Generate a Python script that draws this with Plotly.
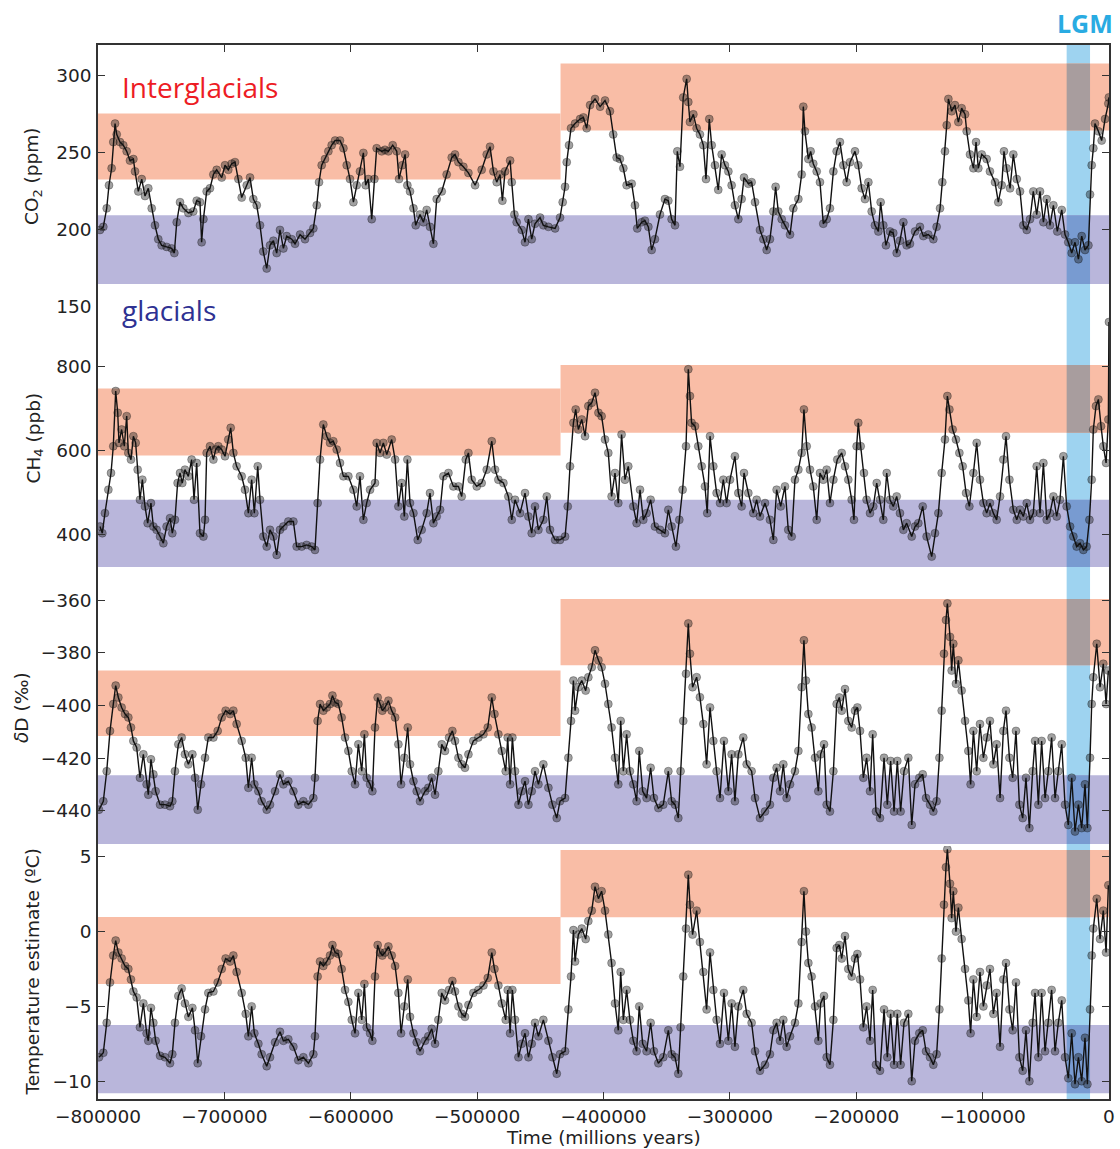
import plotly.graph_objects as go

# ---------------- data (ages in kyr, negative = before present) ----------------
co2_age = [
 -798.4,-795.8,-793.1,-791.3,-789.2,-787.9,-786.5,-785.2,-782.6,-780.0,
 -777.3,-774.7,-772.0,-770.7,-768.1,-765.4,-762.8,-760.2,-757.5,-754.9,
 -752.3,-749.6,-745.7,-741.7,-739.6,-737.7,-735.1,-732.5,-728.5,-724.6,
 -721.9,-719.3,-718.0,-716.6,-714.0,-711.4,-708.7,-706.1,-702.1,-699.5,
 -696.9,-694.2,-691.6,-688.9,-686.3,-682.3,-679.7,-677.1,-674.4,-671.8,
 -669.2,-666.5,-663.9,-661.2,-658.6,-656.0,-653.3,-650.7,-646.7,-644.1,
 -640.1,-636.2,-632.2,-629.6,-626.9,-625.1,-623.0,-620.4,-617.7,-615.1,
 -612.4,-608.5,-605.8,-603.2,-600.6,-597.9,-595.3,-592.7,-590.0,-588.2,
 -586.1,-583.4,-581.3,-579.5,-575.5,-572.9,-570.2,-566.8,-563.6,-561.8,
 -559.2,-557.0,-555.2,-553.1,-550.4,-548.6,-545.2,-542.5,-539.9,-537.3,
 -534.6,-532.0,-528.0,-524.1,-520.1,-517.5,-514.8,-510.9,-506.9,-501.6,
 -496.4,-492.4,-489.8,-487.1,-484.5,-481.9,-480.0,-477.9,-473.9,-472.6,
 -470.5,-468.7,-464.7,-462.1,-459.4,-456.8,-454.2,-450.2,-447.6,-443.6,
 -438.3,-434.4,-432.3,-430.4,-429.1,-427.3,-425.7,-422.5,-418.5,-415.9,
 -413.3,-410.6,-406.7,-402.7,
 -398.8,-394.9,-392.3,-389.6,-387.0,-384.3,-381.7,-377.7,-375.1,-373.3,
 -369.8,-367.2,-364.5,-361.9,-359.3,-355.3,-351.4,-348.7,-346.1,-343.4,
 -341.6,-339.5,-336.9,-334.2,-332.9,-331.6,-328.9,-326.3,-323.7,-321.0,
 -318.9,-316.3,-314.4,-311.8,-309.2,-306.5,-303.9,-301.2,-298.6,-296.0,
 -293.3,-290.7,-288.8,-285.4,-282.8,-280.1,-276.2,-273.5,-270.9,-268.3,
 -265.6,-263.8,-261.7,-259.0,-256.4,-252.4,-249.8,-245.8,-243.2,-241.9,
 -240.6,-237.9,-236.1,-234.0,-231.3,-228.7,-226.1,-223.4,-220.8,-218.1,
 -215.5,-212.9,-210.2,-207.6,-204.9,-201.0,-198.4,-195.7,-193.1,-190.4,
 -187.8,-185.2,-182.5,-180.7,-178.6,-176.5,-173.3,-170.7,-168.0,-165.4,
 -162.7,-160.1,-157.5,-153.5,-149.6,-146.9,-143.0,-139.0,-136.4,-133.7,
 -131.9,-129.8,-128.4,-127.1,-124.5,-121.9,-119.2,-116.6,-113.9,-112.6,
 -110.0,-107.3,-105.2,-103.4,-100.7,-96.8,-94.2,-90.2,-87.6,-84.9,
 -83.1,-81.0,-78.3,-75.7,-73.0,-70.4,-67.8,-65.1,-62.5,-59.9,
 -57.2,-54.6,-51.9,-49.3,-46.7,-44.0,-40.9,-37.4,-34.8,-32.2,
 -29.5,-26.9,-24.2,-21.6,-19.0,-16.3,-15.0,-13.7,-12.4,-11.1,
 -8.4,-5.8,-3.1,-0.5,-0.1]
co2_ppm = [
 200,202,214,229,240,257,269,262,257,255,
 251,245,246,238,225,233,222,227,214,203,
 194,190,189,188,185,205,218,214,211,212,
 219,218,192,207,225,227,236,239,234,242,
 239,243,244,233,221,229,234,220,216,203,
 186,175,190,193,185,200,188,196,194,191,
 197,194,198,201,216,231,242,246,251,255,
 258,258,253,242,233,218,229,238,250,229,
 233,207,233,253,251,252,251,255,251,233,
 242,249,229,225,214,203,210,205,213,202,
 191,220,225,236,247,249,244,241,237,229,
 239,249,254,238,231,236,219,238,245,231,
 210,205,200,192,207,194,204,208,203,202,
 201,208,218,228,244,255,266,269,272,273,
 266,281,285,280,
 284,277,262,247,246,240,229,230,216,201,
 205,206,202,187,194,210,220,219,207,203,
 251,241,286,298,283,270,275,266,262,255,
 233,272,255,242,226,249,242,238,229,216,
 207,220,234,230,231,218,200,194,187,194,
 212,228,212,207,203,197,214,220,236,280,
 264,246,251,243,238,231,204,207,214,238,
 251,257,242,231,244,251,242,227,220,231,
 212,203,199,218,203,190,199,198,185,193,
 205,190,191,199,202,196,197,194,202,214,
 231,251,268,285,277,281,270,279,275,264,
 249,240,257,240,249,246,238,231,218,229,
 251,240,227,249,233,225,203,200,207,225,
 210,225,205,220,203,216,199,213,197,192,
 185,192,181,196,187,190,223,242,253,269,
 264,258,272,282,286]

ch4_age = [
 -798.4,-796.6,-794.5,-791.8,-789.7,-787.9,-786.0,-784.4,-783.4,-781.3,
 -779.2,-777.3,-776.0,-773.9,-772.0,-770.2,-768.6,-766.8,-764.9,-762.8,
 -760.7,-758.1,-756.2,-753.6,-750.9,-748.3,-745.7,-743.0,-741.2,-739.1,
 -737.0,-735.1,-733.3,-731.2,-728.5,-725.9,-724.0,-721.9,-719.3,-716.6,
 -715.3,-714.0,-711.4,-708.7,-706.9,-704.8,-702.1,-699.5,-696.9,-695.0,
 -692.9,-690.3,-686.3,-683.7,-681.0,-678.4,-676.3,-673.6,-671.8,-669.2,
 -666.5,-663.9,-661.2,-658.6,-656.0,-653.3,-649.4,-645.4,-642.8,-638.8,
 -634.9,-630.9,-628.3,-626.2,-624.3,-621.7,-619.0,-616.4,-613.8,-611.1,
 -608.5,-605.8,-601.9,-597.9,-595.3,-592.7,-590.0,-587.4,-584.7,-580.8,
 -579.5,-576.8,-574.2,-571.5,-567.6,-564.9,-562.3,-559.7,-557.6,-555.2,
 -553.1,-550.4,-547.0,-543.9,-539.9,-537.3,-534.6,-532.0,-529.3,-526.7,
 -522.7,-518.8,-514.8,-512.2,-509.0,-506.9,-504.3,-500.3,-496.4,-492.4,
 -488.4,-485.8,-483.2,-479.2,-475.3,-472.6,-470.0,-466.0,-462.1,-459.4,
 -456.8,-454.2,-451.5,-447.6,-444.9,-442.3,-438.3,-434.4,-430.4,-428.3,
 -426.5,-423.8,-422.0,-419.9,-417.2,-414.6,-412.0,-409.3,-406.7,-404.0,
 -401.5,-398.8,-396.2,-393.6,-390.9,-388.3,-385.7,-383.0,-380.4,-376.4,
 -373.8,-371.1,-368.5,-365.9,-362.7,-359.3,-355.3,-351.4,-348.7,-346.1,
 -342.7,-340.0,-337.4,-334.7,-332.9,-331.6,-330.3,-327.6,-325.0,-322.3,
 -319.7,-317.9,-315.7,-313.1,-310.5,-307.8,-305.2,-302.6,-299.9,-296.0,
 -293.3,-290.7,-288.8,-285.4,-281.5,-278.8,-276.2,-272.2,-268.3,-265.6,
 -263.0,-259.8,-256.4,-253.8,-251.1,-248.5,-245.8,-243.2,-241.4,-239.2,
 -236.6,-234.0,-231.3,-228.7,-226.1,-223.4,-220.8,-218.1,-215.0,-211.5,
 -208.9,-206.3,-203.6,-201.8,-199.7,-198.4,-196.5,-193.9,-191.8,-189.1,
 -186.5,-183.8,-181.2,-178.6,-175.9,-173.3,-170.7,-168.0,-165.4,-162.7,
 -160.1,-156.1,-153.5,-150.9,-147.4,-144.3,-140.3,-137.7,-135.0,-132.4,
 -129.8,-127.9,-126.3,-123.7,-121.1,-118.4,-115.8,-113.1,-110.5,-107.3,
 -104.7,-102.1,-99.4,-96.8,-94.2,-91.5,-88.9,-86.2,-83.6,-81.5,
 -78.8,-75.7,-73.0,-70.4,-67.8,-65.1,-62.5,-59.9,-57.2,-54.6,
 -51.9,-49.3,-46.7,-44.0,-41.4,-38.8,-36.1,-33.5,-30.8,-28.2,
 -25.6,-22.9,-20.3,-17.7,-15.5,-13.7,-12.4,-10.3,-8.4,-6.3,
 -4.5,-2.3,-0.5,-0.05]
ch4_ppb = [
 418,402,450,506,546,610,742,690,618,650,
 610,682,594,578,634,618,554,482,530,466,
 426,474,418,410,394,378,418,438,402,434,
 522,546,522,554,538,578,482,570,402,394,
 434,594,610,578,602,610,602,586,626,654,
 594,562,538,506,450,530,450,562,482,394,
 370,410,394,350,410,418,430,430,370,370,
 374,370,362,474,578,662,634,618,622,602,
 570,538,538,506,466,538,434,474,506,522,
 618,594,618,590,626,578,466,522,442,578,
 474,450,386,410,450,498,426,442,458,538,
 546,514,514,490,578,594,530,514,522,554,
 622,554,530,522,490,434,482,450,498,442,
 402,466,410,434,490,410,386,386,394,466,
 562,666,698,650,674,634,706,714,738,690,
 682,626,594,490,546,474,638,530,562,466,
 426,506,434,450,482,418,410,402,458,418,
 370,434,506,610,794,730,666,658,610,562,
 514,450,634,562,498,474,530,474,530,586,
 498,466,546,498,450,482,442,474,434,386,
 506,466,514,410,394,530,554,594,698,610,
 554,514,434,546,530,554,474,530,578,594,
 562,530,482,434,610,666,610,546,482,450,
 466,522,482,434,546,482,466,490,450,410,
 426,394,418,426,466,394,346,402,450,546,
 626,730,698,650,626,594,562,498,466,546,
 618,530,474,450,474,450,434,490,578,634,
 530,458,434,458,442,474,434,450,562,450,
 570,434,450,490,442,482,586,466,418,394,
 370,378,362,370,434,530,650,706,722,658,
 610,570,674,907]

dD_age = [
 -799.2,-795.8,-793.1,-790.5,-787.9,-786.0,-783.9,-781.3,-778.6,-776.0,
 -773.9,-772.0,-769.4,-766.8,-764.1,-761.5,-760.2,-758.1,-756.2,-754.4,
 -750.9,-747.0,-743.0,-741.2,-739.1,-736.4,-733.8,-731.2,-728.5,-725.3,
 -723.2,-721.1,-718.5,-715.3,-712.7,-708.7,-705.3,-702.1,-699.0,-695.5,
 -692.9,-690.3,-686.3,-683.1,-681.0,-678.4,-676.3,-673.1,-670.5,-666.5,
 -663.9,-659.9,-656.0,-653.3,-649.4,-645.4,-641.5,-637.5,-633.5,-629.6,
 -628.3,-626.2,-624.3,-621.7,-619.0,-616.4,-614.5,-612.4,-609.8,-607.2,
 -604.5,-601.9,-599.2,-596.6,-594.0,-591.3,-589.2,-587.4,-584.7,-582.9,
 -580.8,-578.7,-576.8,-575.0,-572.9,-570.2,-567.6,-564.9,-562.3,-560.2,
 -557.6,-554.9,-553.1,-550.4,-547.8,-545.2,-541.2,-538.6,-535.9,-533.3,
 -530.7,-528.0,-525.4,-522.2,-519.6,-517.5,-514.8,-512.2,-509.6,-506.9,
 -503.0,-499.0,-495.0,-491.6,-488.4,-486.3,-483.2,-480.5,-477.4,-475.8,
 -473.9,-472.1,-470.0,-467.3,-464.7,-462.1,-459.4,-456.8,-454.2,-451.5,
 -447.6,-443.6,-440.4,-437.0,-434.4,-430.4,-427.8,-425.7,-423.8,-422.5,
 -419.9,-417.2,-414.1,-412.0,-409.3,-406.7,-404.0,
 -401.5,-398.8,-396.2,-393.6,-390.9,-388.3,-386.4,-384.3,-381.7,-379.1,
 -376.4,-373.8,-371.7,-369.0,-365.9,-362.7,-360.1,-356.6,-352.7,-348.7,
 -346.1,-343.4,-340.8,-339.0,-336.9,-334.7,-332.9,-331.6,-329.5,-326.3,
 -323.7,-321.0,-318.4,-315.7,-313.1,-310.5,-307.8,-304.7,-301.2,-298.6,
 -296.0,-293.3,-289.4,-286.7,-282.8,-280.1,-276.2,-272.2,-268.3,-265.6,
 -263.0,-260.3,-257.7,-255.1,-252.4,-248.5,-245.8,-243.2,-241.4,-239.8,
 -237.9,-235.3,-232.6,-230.0,-228.2,-225.5,-223.4,-220.8,-218.1,-215.5,
 -213.4,-211.5,-208.9,-206.3,-203.6,-201.0,-199.1,-197.0,-194.4,-191.8,
 -189.1,-187.0,-184.4,-181.2,-178.0,-175.4,-172.8,-170.1,-167.5,-164.9,
 -162.2,-158.8,-156.1,-153.5,-150.1,-147.4,-144.8,-141.6,-139.0,-136.4,
 -134.2,-132.4,-130.6,-129.0,-127.9,-125.8,-124.5,-123.2,-121.1,-119.2,
 -116.6,-113.9,-111.3,-109.5,-107.3,-104.7,-102.1,-99.4,-96.8,-94.2,
 -91.5,-88.9,-86.2,-83.6,-81.5,-78.8,-76.2,-73.6,-70.9,-68.3,
 -65.7,-63.0,-60.4,-58.5,-55.9,-53.3,-50.6,-48.0,-45.4,-42.7,
 -40.1,-37.4,-34.8,-32.2,-29.5,-26.9,-24.2,-21.6,-19.0,-17.1,
 -15.0,-13.7,-12.4,-9.7,-7.1,-4.5,-2.3,-0.5]
dD_permil = [
 -439.6,-436.4,-425,-409.7,-399.5,-392.5,-397,-400.8,-403.3,-404.6,
 -408.4,-413.5,-416,-427.5,-418.6,-430,-433.9,-420.5,-426.2,-432.6,
 -437.7,-437.7,-438.3,-436.4,-425,-414.8,-412.2,-418.6,-422.4,-418.6,
 -427.5,-439.6,-430,-419.9,-412.2,-412.2,-409.7,-404.6,-402,-403.3,
 -402,-407.1,-413.5,-419.9,-431.3,-419.9,-430,-432.6,-436.4,-439.6,
 -437.7,-432.6,-426.2,-430,-428.8,-432.6,-437.7,-436.4,-437.7,-435.2,
 -427.5,-405.9,-399.5,-402,-400.8,-399.5,-396.3,-398.9,-399.5,-404.6,
 -412.2,-417.3,-425,-430,-414.8,-425,-411,-427.5,-430,-432.6,
 -408.4,-397,-399.5,-402,-400.8,-398.2,-402,-404.6,-414.8,-430,
 -419.9,-408.4,-422.4,-428.8,-432.6,-436.4,-432.6,-431.3,-427.5,-433.9,
 -425,-414.8,-417.3,-412.2,-409.7,-413.5,-419.9,-422.4,-423.7,-418.6,
 -413.5,-412.2,-411,-408.4,-397,-403.3,-411,-417.3,-425,-412.2,
 -430,-412.2,-425,-437.7,-432.6,-428.8,-437.7,-432.6,-425,-430,
 -422.4,-431.3,-437.7,-442.8,-436.4,-435.2,-419.9,-405.9,-390.6,-402,
 -393.1,-390.6,-394.4,-389.3,-385.5,-379.1,-382.9,
 -385.5,-391.8,-399.5,-408.4,-419.9,-430,-405.9,-425,-411,-425,
 -430,-436.4,-417.3,-432.6,-435.2,-423.7,-435.2,-439,-437.7,-425,
 -436.4,-437.7,-442.8,-425,-405.9,-388,-368.9,-380.4,-393.1,-389.3,
 -396.9,-407.1,-422.4,-400.8,-413.5,-425,-435.2,-413.5,-432.6,-418.6,
 -436.4,-418.6,-412.2,-422.4,-425,-435.2,-442.8,-440.3,-437.7,-427.5,
 -423.7,-432.6,-422.4,-435.2,-430,-425,-417.3,-393.1,-375.3,-390.6,
 -403.3,-408.4,-419.9,-432.6,-418.6,-414.8,-437.7,-440.3,-425,-399.5,
 -397,-402,-393.8,-405.9,-408.4,-402,-400.8,-409.7,-427.5,-419.9,
 -432.6,-411,-440.3,-442.8,-419.9,-437.7,-421.1,-440.3,-421.1,-440.3,
 -425,-419.9,-445.4,-430,-427.5,-426.2,-435.2,-437.7,-440.3,-436.4,
 -419.9,-402,-380.4,-367.6,-361.3,-374,-386.8,-376.6,-391.8,-382.9,
 -394.4,-405.9,-417.3,-430,-409.7,-425,-407.1,-419.9,-412.2,-405.9,
 -422.4,-414.8,-435.2,-409.7,-402,-419.9,-427.5,-409.7,-437.7,-442.8,
 -427.5,-446.6,-425,-413.5,-437.7,-413.5,-435.2,-425,-412.2,-435.2,
 -425,-414.8,-437.7,-445.4,-427.5,-447.9,-437.7,-446.6,-430,-446.6,
 -419.9,-399.5,-389.3,-376.6,-393.1,-384.2,-399.5,-386.8]

temp_age = list(dD_age)
temp_c = [
 -8.4,-8.1,-6.1,-3.4,-1.6,-0.6,-1.4,-1.8,-2.3,-2.5,
 -3.2,-4.0,-4.4,-6.4,-4.8,-6.8,-7.3,-5.1,-6.1,-7.3,
 -8.3,-8.4,-8.8,-8.2,-6.1,-4.3,-3.8,-4.8,-5.7,-5.1,
 -6.6,-8.8,-7.0,-5.2,-4.1,-4.0,-3.4,-2.5,-1.8,-2.0,
 -1.6,-2.7,-4.1,-5.5,-7.0,-5.0,-6.8,-7.5,-8.2,-9.0,
 -8.4,-7.4,-6.7,-7.3,-7.2,-7.7,-8.6,-8.4,-8.8,-8.2,
 -7.0,-3.0,-2.0,-2.3,-2.0,-1.6,-0.9,-1.4,-1.5,-2.5,
 -3.9,-4.7,-5.9,-6.8,-4.1,-5.9,-3.5,-6.4,-6.8,-7.3,
 -3.0,-0.9,-1.4,-1.6,-1.4,-1.0,-1.6,-2.3,-4.1,-6.8,
 -5.0,-3.2,-5.7,-6.8,-7.4,-8.0,-7.3,-7.0,-6.5,-7.5,
 -5.9,-4.1,-4.6,-3.9,-3.3,-4.0,-5.0,-5.5,-5.7,-4.9,
 -4.1,-3.9,-3.6,-3.1,-1.4,-2.5,-3.6,-4.8,-5.9,-3.9,
 -6.8,-3.9,-5.9,-8.4,-7.5,-6.8,-8.4,-7.5,-6.1,-7.0,
 -5.9,-7.3,-8.4,-9.5,-8.2,-8.0,-5.2,-3.0,0.1,-2.0,
 -0.2,0.2,-0.5,0.7,1.4,3.0,2.2,
 2.7,1.4,-0.2,-2.1,-4.8,-6.6,-2.7,-5.9,-3.9,-5.9,
 -7.3,-8.0,-5.0,-7.5,-8.0,-6.1,-8.0,-8.8,-8.4,-6.6,
 -8.2,-8.4,-9.5,-6.4,-3.0,0.2,3.8,1.8,-0.2,1.4,
 -0.7,-2.7,-5.2,-1.4,-3.9,-5.9,-7.5,-4.1,-7.3,-4.8,
 -7.7,-5.0,-3.9,-5.5,-6.1,-8.0,-9.3,-8.9,-8.2,-6.6,
 -6.1,-7.3,-5.9,-7.7,-7.0,-6.1,-4.8,-0.7,2.7,0.0,
 -2.1,-3.0,-5.0,-7.3,-4.8,-4.3,-8.4,-8.9,-5.9,-1.1,
 -0.9,-1.8,-0.3,-2.5,-3.0,-1.8,-1.5,-3.2,-6.4,-5.0,
 -7.3,-3.9,-8.9,-9.3,-5.2,-8.4,-5.5,-8.9,-5.5,-8.9,
 -6.1,-5.5,-10.0,-7.3,-6.8,-6.6,-8.0,-8.4,-8.9,-8.2,
 -5.2,-1.8,1.8,4.3,5.5,3.2,0.9,2.7,0.0,1.6,
 -0.5,-2.5,-4.6,-6.8,-3.2,-5.7,-2.7,-5.0,-3.6,-2.5,
 -5.5,-4.1,-7.7,-3.2,-2.1,-5.2,-6.6,-3.4,-8.4,-9.3,
 -6.6,-10.0,-6.1,-4.1,-8.4,-4.1,-8.0,-6.1,-3.9,-8.0,
 -6.1,-4.6,-8.4,-9.8,-6.8,-10.2,-8.4,-10.0,-7.1,-10.2,
 -5.2,-1.6,0.2,2.2,-0.5,1.4,-1.4,3.1]

# band limits [low, high] per panel: early / late interglacial, and glacial
split_kyr = -434.0
lgm_kyr = [-33.5, -15.0]
co2_bands = {"ig_early": [232.8, 275.6], "ig_late": [264.5, 308.0], "gl": [165.0, 209.5]}
ch4_bands = {"ig_early": [588.0, 748.0], "ig_late": [642.0, 804.0], "gl": [321.0, 482.0]}
dD_bands = {"ig_early": [-411.6, -386.8], "ig_late": [-384.8, -359.6], "gl": [-452.6, -426.5]}
temp_bands = {"ig_early": [-3.5, 0.98], "ig_late": [0.95, 5.45], "gl": [-10.8, -6.25]}

x_ticks = [-800000, -700000, -600000, -500000, -400000, -300000, -200000, -100000, 0]
x_ticktext = ["\u2212800000", "\u2212700000", "\u2212600000", "\u2212500000", "\u2212400000",
              "\u2212300000", "\u2212200000", "\u2212100000", "0"]

assert len(co2_age) == len(co2_ppm)
assert len(ch4_age) == len(ch4_ppb)
assert len(dD_age) == len(dD_permil)
assert len(temp_age) == len(temp_c)

# ---------------- styling ----------------
RED = "#F9BDA6"
BLUE = "#B9B6DB"
LGM = "#9ED3F0"
LGM_ON_RED = "#A89D9E"
LGM_ON_BLUE = "#789BD1"
AXC = "#333333"
TXT = "#222222"
FONT = "DejaVu Sans"

W, H = 1120, 1149
ML, MR, MT, MB = 98, 11, 45, 50
PH = H - MT - MB
def py2paper(py):
    return (H - MB - py) / PH
def px2paper(px):
    return (px - ML) / (W - ML - MR)

bounds = [45, 307, 570, 846, 1099]
domains = [[py2paper(bounds[i + 1]), py2paper(bounds[i])] for i in range(4)]

panels = [
    dict(age=co2_age, val=co2_ppm, bands=co2_bands, rng=[150, 320],
         tv=[150, 200, 250, 300], tt=["150", "200", "250", "300"],
         title="CO<sub>2</sub> (ppm)", tx=33),
    dict(age=ch4_age, val=ch4_ppb, bands=ch4_bands, rng=[314, 943],
         tv=[400, 600, 800], tt=["400", "600", "800"],
         title="CH<sub>4</sub> (ppb)", tx=35),
    dict(age=dD_age, val=dD_permil, bands=dD_bands, rng=[-453.4, -348.6],
         tv=[-440, -420, -400, -380, -360],
         tt=["\u2212440", "\u2212420", "\u2212400", "\u2212380", "\u2212360"],
         title="<i>\u03b4</i>D (\u2030)", tx=21),
    dict(age=temp_age, val=temp_c, bands=temp_bands, rng=[-11.19, 5.72],
         tv=[-10, -5, 0, 5], tt=["\u221210", "\u22125", "0", "5"],
         title="Temperature estimate (\u00baC)", tx=32),
]

fig = go.Figure()
shapes = []
annotations = []
layout = {}

for i, p in enumerate(panels):
    n = "" if i == 0 else str(i + 1)
    xref, yref = "x" + n, "y" + n
    xs = [a * 1000 for a in p["age"]]
    fig.add_trace(go.Scatter(x=xs, y=p["val"], mode="markers", xaxis=xref, yaxis=yref,
                             marker=dict(size=8, color="rgba(30,30,30,0.42)",
                                         line=dict(width=0.8, color="rgba(0,0,0,0.35)")),
                             showlegend=False, hoverinfo="skip"))
    fig.add_trace(go.Scatter(x=xs, y=p["val"], mode="lines", xaxis=xref, yaxis=yref,
                             line=dict(color="#111111", width=1.4),
                             showlegend=False, hoverinfo="skip"))

    b = p["bands"]
    for x0, x1, (lo, hi), col in (
            (-800000, split_kyr * 1000, b["ig_early"], RED),
            (split_kyr * 1000, 0, b["ig_late"], RED),
            (-800000, 0, b["gl"], BLUE)):
        shapes.append(dict(type="rect", xref=xref, yref=yref, x0=x0, x1=x1, y0=lo, y1=hi,
                           fillcolor=col, line=dict(width=0), layer="below"))

    yax = dict(domain=domains[i], range=p["rng"], anchor=xref, automargin=False,
               tickvals=p["tv"], ticktext=p["tt"], ticks="inside", ticklen=7, tickwidth=1.2,
               tickcolor=AXC, showline=True, linecolor=AXC, linewidth=1.5, mirror="ticks",
               showgrid=False, zeroline=False, ticklabelstandoff=1,
               tickfont=dict(family=FONT, size=18.5, color=TXT))
    xax = dict(domain=[0, 1], range=[-800000, 0], anchor=yref, automargin=False,
               showgrid=False, zeroline=False, tickvals=x_ticks, ticktext=x_ticktext)
    if i == 0:
        xax.update(side="top", showline=True, linecolor=AXC, linewidth=1.5, ticks="inside",
                   ticklen=7, tickwidth=1.2, tickcolor=AXC, showticklabels=False)
    elif i == 3:
        xax.update(side="bottom", showline=True, linecolor=AXC, linewidth=1.5, ticks="inside",
                   ticklen=7, tickwidth=1.2, tickcolor=AXC, showticklabels=True, matches="x",
                   tickfont=dict(family=FONT, size=18.5, color=TXT))
    else:
        xax.update(showline=False, ticks="", showticklabels=False, matches="x")
    layout["xaxis" + n] = xax
    layout["yaxis" + n] = yax

    annotations.append(dict(text=p["title"], xref="paper", yref=yref + " domain",
                            x=px2paper(p["tx"]), y=0.5, xanchor="center", yanchor="middle",
                            textangle=-90, showarrow=False,
                            font=dict(family=FONT, size=18.5, color=TXT)))

# LGM band through all panels, then tinted overlaps where it crosses the bands
shapes.append(dict(type="rect", xref="x", yref="paper", x0=lgm_kyr[0] * 1000, x1=lgm_kyr[1] * 1000,
                   y0=0, y1=1, fillcolor=LGM, line=dict(width=0), layer="below"))
for i, p in enumerate(panels):
    n = "" if i == 0 else str(i + 1)
    b = p["bands"]
    for key, col in (("ig_late", LGM_ON_RED), ("gl", LGM_ON_BLUE)):
        lo, hi = b[key]
        shapes.append(dict(type="rect", xref="x" + n, yref="y" + n,
                           x0=lgm_kyr[0] * 1000, x1=lgm_kyr[1] * 1000, y0=lo, y1=hi,
                           fillcolor=col, line=dict(width=0), layer="below"))

annotations += [
    dict(text="Interglacials", xref="paper", yref="paper", x=px2paper(120), y=py2paper(87),
         xanchor="left", yanchor="middle", showarrow=False,
         font=dict(family="Open Sans", size=28, color="#ED1C24")),
    dict(text="glacials", xref="paper", yref="paper", x=px2paper(120), y=py2paper(310),
         xanchor="left", yanchor="middle", showarrow=False,
         font=dict(family="Open Sans", size=28, color="#2E3192")),
    dict(text="<b>LGM</b>", xref="paper", yref="paper", x=px2paper(1114), y=py2paper(23),
         xanchor="right", yanchor="middle", showarrow=False, borderpad=0,
         font=dict(family="Open Sans", size=25, color="#29ABE2")),
    dict(text="Time (millions years)", xref="paper", yref="paper", x=px2paper(603),
         y=py2paper(1137), xanchor="center", yanchor="middle", showarrow=False,
         font=dict(family=FONT, size=18.5, color=TXT)),
]

fig.update_layout(width=W, height=H, autosize=False, margin=dict(l=ML, r=MR, t=MT, b=MB),
                  paper_bgcolor="white", plot_bgcolor="rgba(0,0,0,0)",
                  shapes=shapes, annotations=annotations, showlegend=False, **layout)

fig.write_html("out.html",
               config={"displayModeBar": False, "responsive": False},
               post_script="document.body.style.margin='0';"
                           "document.body.style.overflow='hidden';"
                           "document.documentElement.style.overflow='hidden';")
